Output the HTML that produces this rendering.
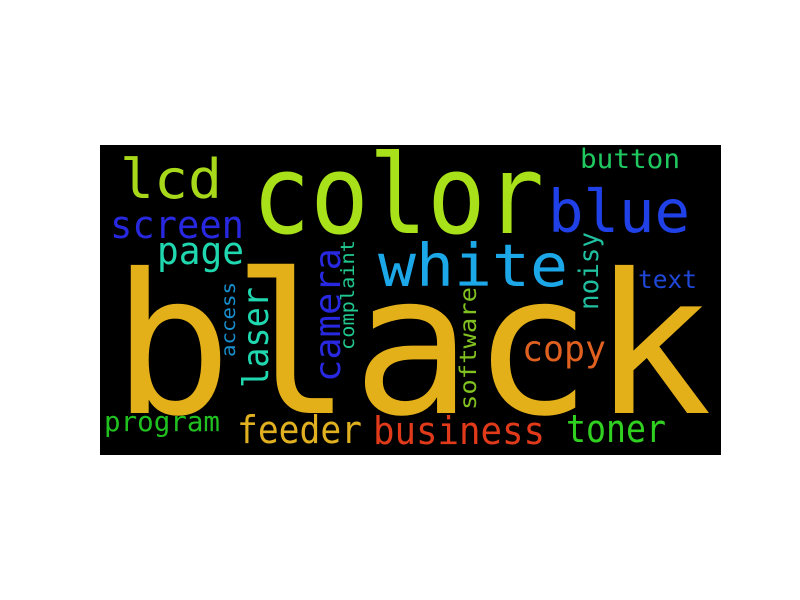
<!DOCTYPE html>
<html><head><meta charset="utf-8"><style>
html,body{margin:0;padding:0;background:#fff;width:800px;height:600px;overflow:hidden}
svg{display:block}
text{font-family:"DejaVu Sans Mono","Liberation Mono",monospace}
</style></head><body>
<svg id="cloud" width="800" height="600" xmlns="http://www.w3.org/2000/svg">
<rect x="100" y="145" width="621" height="310" fill="#000"/>
</svg>
<script>
const words=["black","color","lcd","screen","page","program","feeder","business","toner","white","blue","button","text","copy","laser","camera","complaint","access","software","noisy"];
const xs=[112,252,120,110,157,104,237,373,566,378,548,580,638,522,268,340,354,235,476,598];
const ys=[413,233,198,238,264,431,443,444,442,286,232,168,288,361,388,382,350,357,410,310];
const widths=[600,292,102,134,87,116,125,172,100,190,142,100,59,84,101,134,110,75,123,78];
const sizes=[195,110,54,38,38,28,38,38,38,59,59,27,25,36,36,36,19,19,23,27];
const colors=["#e4b01a","#a8e01a","#a8d81a","#2828e0","#20d8b0","#20c020","#e0b020","#e03a1a","#30d020","#1ca8e8","#2040e8","#20c860","#2048d8","#e06020","#20d8b0","#2828e0","#20c890","#1890d0","#80c020","#20c0a0"];
const vertical=[0,0,0,0,0,0,0,0,0,0,0,0,0,0,1,1,1,1,1,1];
const svg=document.getElementById('cloud');
for(let i=0;i<words.length;i++){
  const t=document.createElementNS('http://www.w3.org/2000/svg','text');
  
  
  t.setAttribute('font-size',sizes[i]);
  t.setAttribute('fill',colors[i]);
  t.setAttribute('textLength',widths[i]);
  t.setAttribute('lengthAdjust','spacingAndGlyphs');
  if(vertical[i]){
    t.setAttribute('transform','translate('+xs[i]+','+ys[i]+') rotate(-90)');
    t.setAttribute('x',0);t.setAttribute('y',0);
  }else{
    t.setAttribute('x',xs[i]);t.setAttribute('y',ys[i]);
  }
  t.textContent=words[i];
  svg.appendChild(t);
}
</script>
</body></html>
